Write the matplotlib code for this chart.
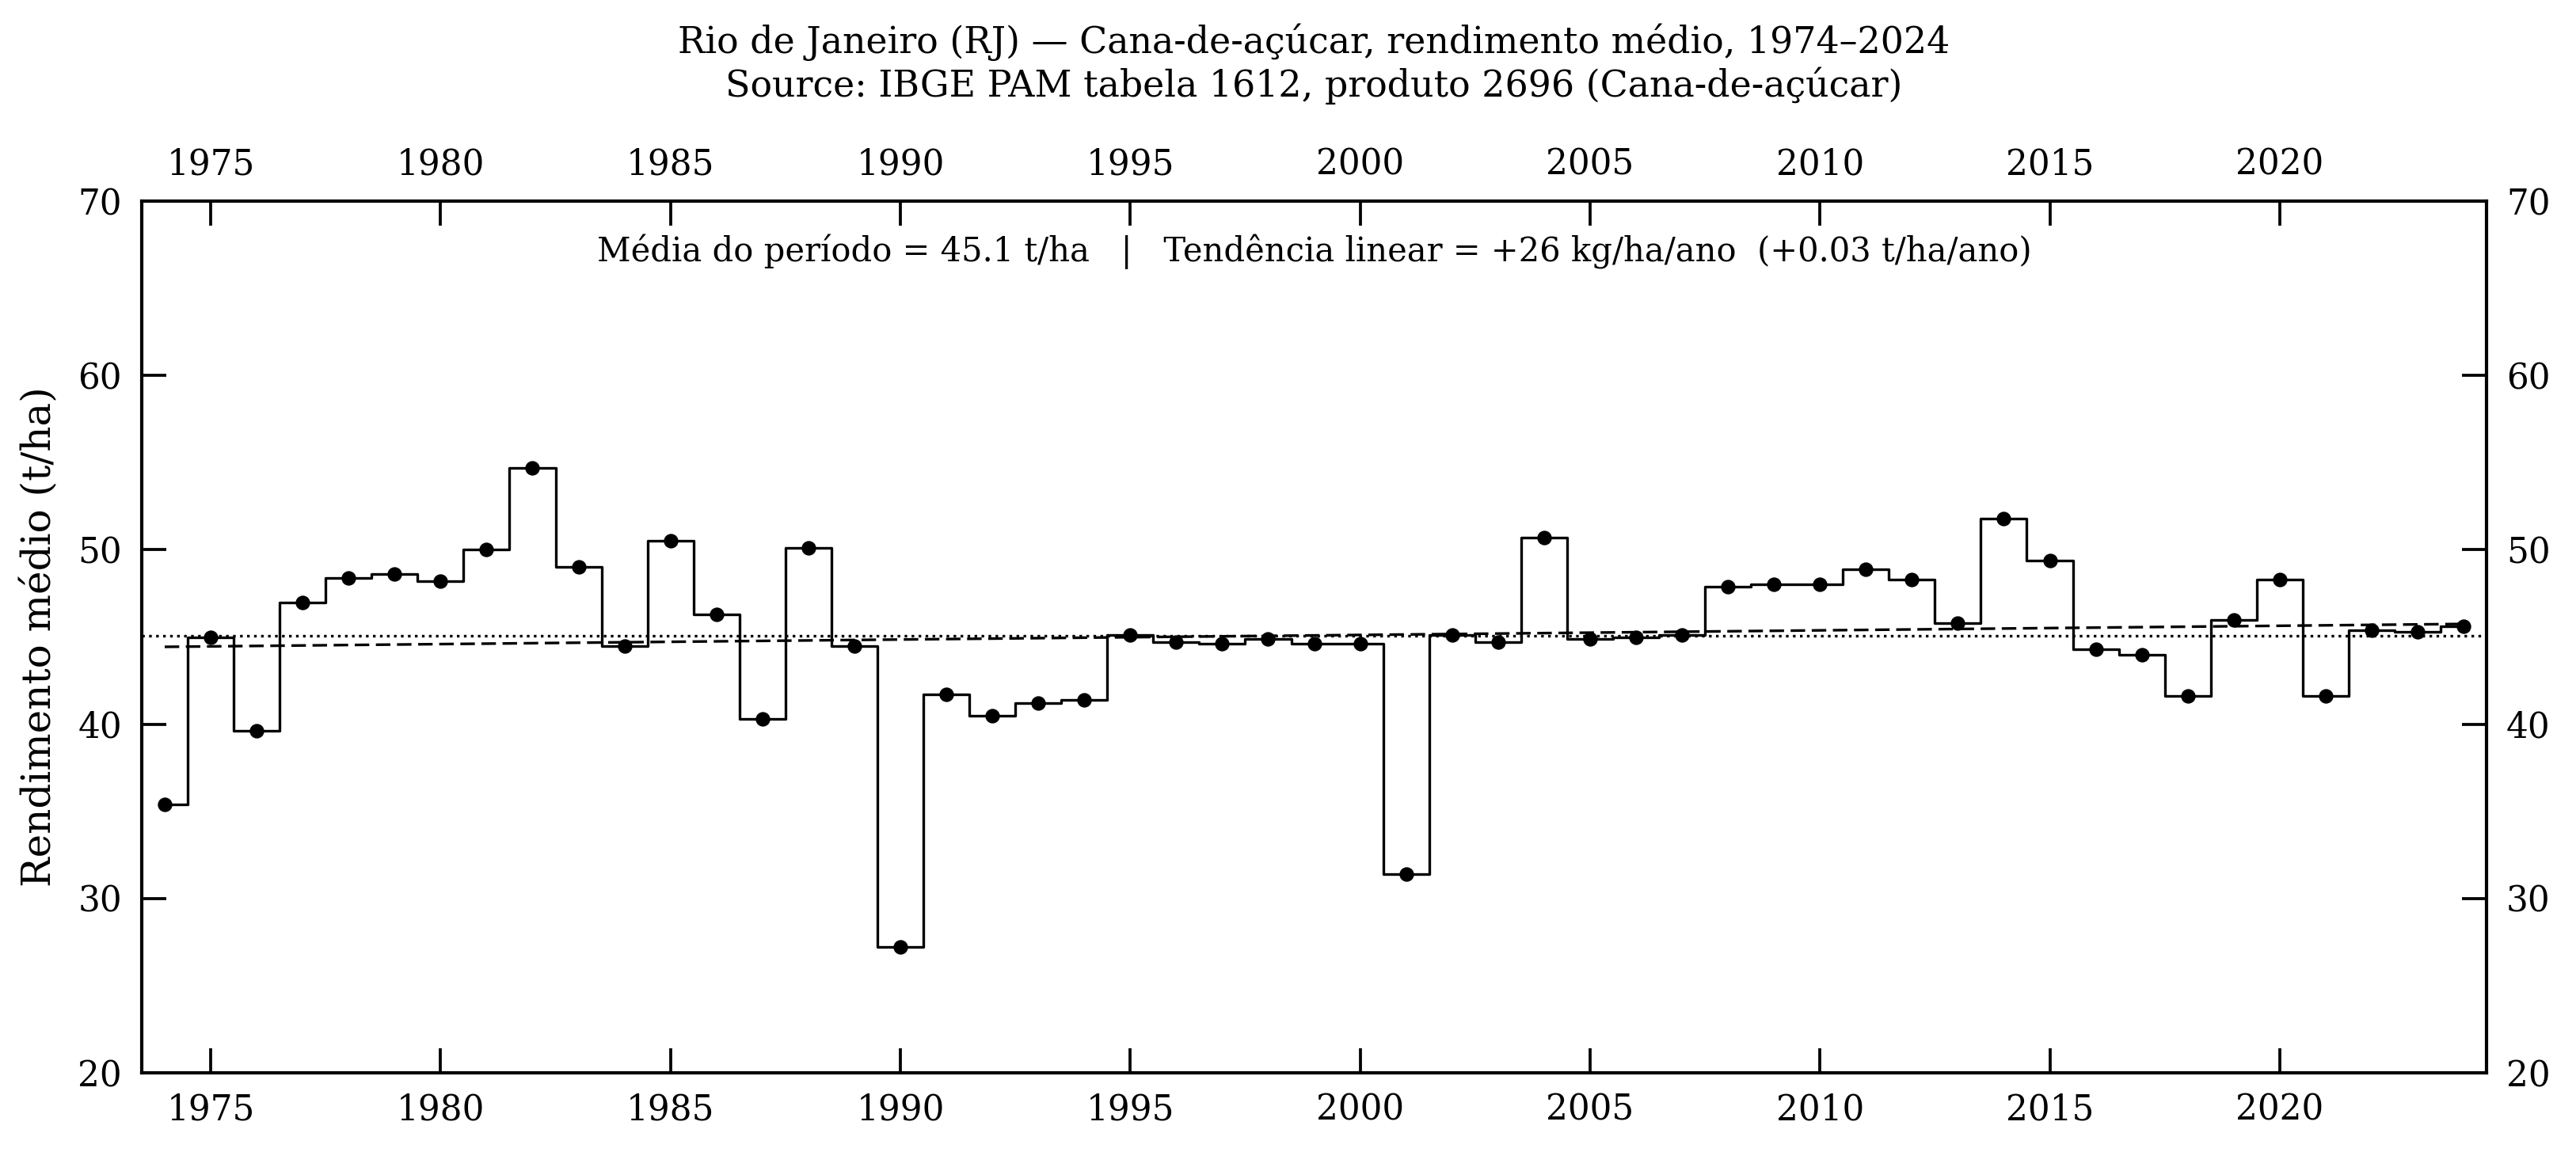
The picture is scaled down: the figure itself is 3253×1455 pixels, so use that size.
import numpy as np
import matplotlib
matplotlib.use("Agg")
import matplotlib.pyplot as plt

years = np.arange(1974, 2025)
yield_tha = [
    35.4, 45.0, 39.6, 47.0, 48.4, 48.6, 48.2, 50.0, 54.7, 49.0,
    44.5, 50.5, 46.3, 40.3, 50.1, 44.5, 27.2, 41.7, 40.5, 41.2,
    41.4, 45.1, 44.7, 44.6, 44.9, 44.6, 44.6, 31.4, 45.1, 44.7,
    50.7, 44.9, 45.0, 45.1, 47.9, 48.0, 48.0, 48.9, 48.3, 45.8,
    51.8, 49.4, 44.3, 44.0, 41.6, 46.0, 48.3, 41.6, 45.4, 45.3,
    45.6,
]

TITLE = ("Rio de Janeiro (RJ) — Cana-de-açúcar, rendimento médio, 1974–2024\n"
         "Source: IBGE PAM tabela 1612, produto 2696 (Cana-de-açúcar)")
NOTE = ("Média do período = 45.1 t/ha   |   Tendência linear = +26 kg/ha/ano"
        "  (+0.03 t/ha/ano)")

plt.rcParams["font.family"] = "DejaVu Serif"

y = np.array(yield_tha)
mean = y.mean()
slope, icpt = np.polyfit(years, y, 1)

fig = plt.figure(figsize=(3254 / 300, 1455 / 300), dpi=300)
ax = fig.add_axes([0.055, 0.0687, 0.91, 0.7567])

ax.step(years, y, where="mid", color="black", lw=0.8)
ax.plot(years, y, "o", color="black", ms=3.4)
ax.axhline(mean, color="black", ls=":", lw=0.8)
ax.plot(years, slope * years + icpt, color="black", lw=0.8, dashes=(5.5, 2.5))

ax.set_xlim(1973.5, 2024.5)
ax.set_ylim(20, 70)
ax.set_xticks(np.arange(1975, 2021, 5))
ax.set_yticks(np.arange(20, 71, 10))
ax.tick_params(direction="in", length=7.5, width=0.9, labelsize=10.5,
               top=True, right=True, labeltop=True, labelright=True, pad=6)
for s in ax.spines.values():
    s.set_linewidth(1.0)
ax.set_ylabel("Rendimento médio (t/ha)", fontsize=12, labelpad=5.5)

ax.text(0.5, 0.962, NOTE, transform=ax.transAxes, ha="center", va="top",
        fontsize=10)
# title centred over the axes, not the figure
fig.suptitle(TITLE, fontsize=11, x=0.055 + 0.91 / 2, y=0.98, linespacing=1.2)

fig.savefig("out.png", dpi=300)
